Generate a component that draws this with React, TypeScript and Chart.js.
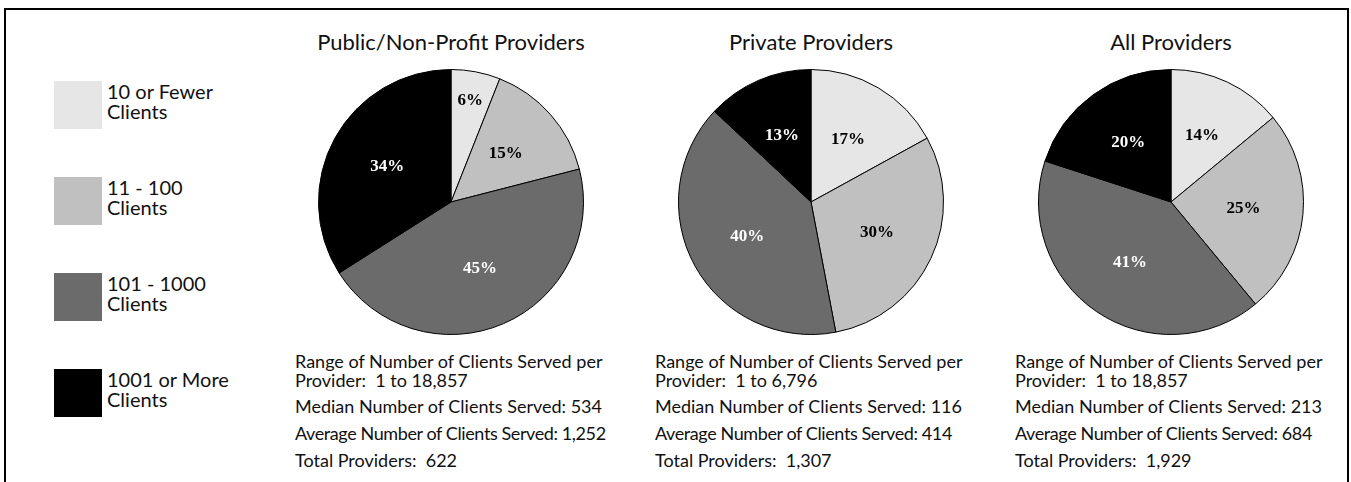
import React, { useEffect, useRef } from "react";
import { Chart, registerables } from "chart.js";

Chart.register(...registerables);

// ---------- data ----------
const categories = ["10 or Fewer Clients", "11 - 100 Clients", "101 - 1000 Clients", "1001 or More Clients"];
const legendLines = [
  ["10 or Fewer", "Clients"],
  ["11 - 100", "Clients"],
  ["101 - 1000", "Clients"],
  ["1001 or More", "Clients"],
];
const chartTitles = ["Public/Non-Profit Providers", "Private Providers", "All Providers"];
const publicValues = [6, 15, 45, 34];
const privateValues = [17, 30, 40, 13];
const allValues = [14, 25, 41, 20];
const rangeMax = ["18,857", "6,796", "18,857"];
const medians = ["534", "116", "213"];
const averages = ["1,252", "414", "684"];
const totals = ["622", "1,307", "1,929"];

// ---------- styles ----------
const sliceColors = ["#e6e6e6", "#c0c0c0", "#6b6b6b", "#000000"];
const labelColors = ["#000000", "#000000", "#ffffff", "#ffffff"];
const FONT = "Lato, 'Open Sans', sans-serif";
const PIE_SIZE = 266;
const CENTER_Y = 202;
const FIRST_CENTER_X = 451;
const COL_STEP = 360;

const sliceLabels = {
  id: "sliceLabels",
  afterDatasetsDraw(chart: any) {
    const ctx = chart.ctx;
    const meta = chart.getDatasetMeta(0);
    const data = chart.data.datasets[0].data as number[];
    const total = data.reduce((a, b) => a + b, 0);
    meta.data.forEach((arc: any, i: number) => {
      const p = arc.getProps(["x", "y", "startAngle", "endAngle", "outerRadius"], true);
      const mid = (p.startAngle + p.endAngle) / 2;
      const frac = data[i] / total < 0.1 ? 0.78 : 0.55;
      const r = p.outerRadius * frac;
      ctx.save();
      ctx.font = "bold 17px 'Liberation Serif', 'Times New Roman', serif";
      ctx.fillStyle = labelColors[i];
      ctx.textAlign = "center";
      ctx.textBaseline = "middle";
      ctx.fillText(data[i] + "%", p.x + Math.cos(mid) * r, p.y + Math.sin(mid) * r);
      ctx.restore();
    });
  },
};

function Pie({ values, left }: { values: number[]; left: number }) {
  const ref = useRef<HTMLCanvasElement | null>(null);
  useEffect(() => {
    if (!ref.current) return;
    const chart = new Chart(ref.current, {
      type: "pie",
      data: {
        labels: categories,
        datasets: [
          {
            data: values,
            backgroundColor: sliceColors,
            borderColor: "#000000",
            borderWidth: 1,
          },
        ],
      },
      options: {
        animation: false,
        responsive: false,
        maintainAspectRatio: false,
        layout: { padding: 0 },
        plugins: { legend: { display: false }, tooltip: { enabled: false } },
      },
      plugins: [sliceLabels],
    } as any);
    return () => chart.destroy();
  }, [values]);
  return (
    <canvas
      ref={ref}
      width={PIE_SIZE}
      height={PIE_SIZE}
      style={{ position: "absolute", left, top: CENTER_Y - PIE_SIZE / 2, width: PIE_SIZE, height: PIE_SIZE }}
    />
  );
}

const seriesList = [publicValues, privateValues, allValues];

export default function App() {
  const statLine = (text: string, top: number, left: number, key: string, spacing = 0) => (
    <div
      key={key}
      style={{
        position: "absolute",
        left,
        top,
        fontSize: 18,
        lineHeight: "18px",
        whiteSpace: "pre",
        letterSpacing: spacing,
        color: "#111",
      }}
    >
      {text}
    </div>
  );
  return (
    <div
      style={{
        position: "absolute",
        left: 0,
        top: 0,
        width: 1351,
        height: 482,
        overflow: "hidden",
        background: "#ffffff",
        fontFamily: FONT,
      }}
    >
      <div
        style={{
          position: "absolute",
          left: 4,
          top: 8,
          width: 1341,
          height: 500,
          border: "2px solid #000",
        }}
      />
      {legendLines.map((lines, i) => (
        <React.Fragment key={"lg" + i}>
          <div
            style={{
              position: "absolute",
              left: 54,
              top: 81 + i * 96,
              width: 48,
              height: 48,
              background: sliceColors[i],
            }}
          />
          <div
            style={{
              position: "absolute",
              left: 107,
              top: 80.5 + i * 96,
              fontSize: 20,
              lineHeight: "20px",
              color: "#111",
              whiteSpace: "nowrap",
            }}
          >
            {lines[0]}
            <br />
            {lines[1]}
          </div>
        </React.Fragment>
      ))}
      {seriesList.map((values, i) => {
        const cx = FIRST_CENTER_X + i * COL_STEP;
        const tx = cx - 156;
        return (
          <React.Fragment key={"col" + i}>
            <div
              style={{
                position: "absolute",
                left: cx - 180,
                top: 30.5,
                width: 360,
                textAlign: "center",
                fontSize: 22,
                lineHeight: "22px",
                color: "#111",
                whiteSpace: "nowrap",
              }}
            >
              {chartTitles[i]}
            </div>
            <Pie values={values} left={cx - PIE_SIZE / 2} />
            {statLine("Range of Number of Clients Served per", 352.3, tx, "a")}
            {statLine("Provider:  1 to " + rangeMax[i], 370.7, tx, "b")}
            {statLine("Median Number of Clients Served: " + medians[i], 397.3, tx, "c")}
            {statLine("Average Number of Clients Served: " + averages[i], 424, tx, "d", -0.4)}
            {statLine("Total Providers:  " + totals[i], 450.7, tx, "e")}
          </React.Fragment>
        );
      })}
    </div>
  );
}
